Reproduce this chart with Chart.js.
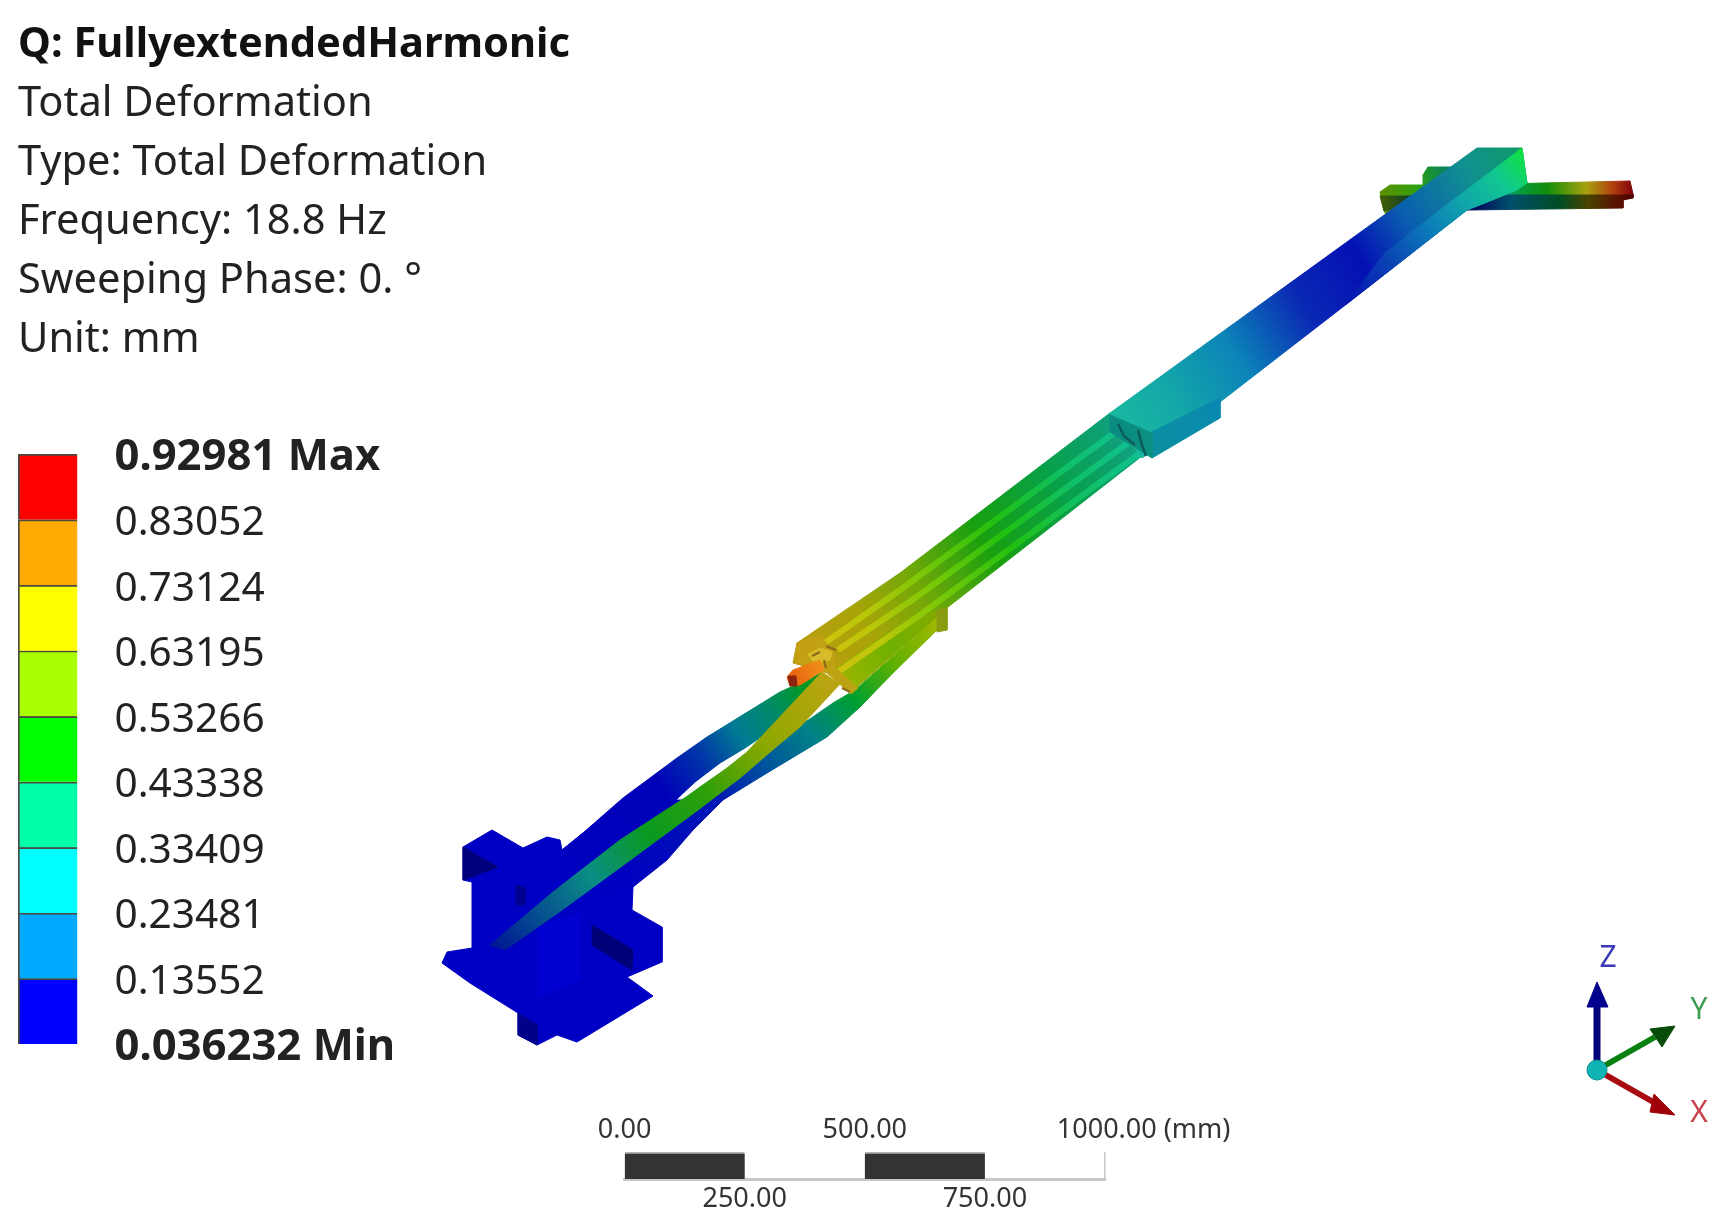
<!DOCTYPE html>
<html>
<head>
<meta charset="utf-8">
<title>Total Deformation</title>
<script src="https://cdn.jsdelivr.net/npm/chart.js@4/dist/chart.umd.js"></script>
<style>
  html, body { margin: 0; padding: 0; background: #fff; }
  #page { position: relative; width: 1736px; height: 1229px; overflow: hidden; background: #fff; filter: blur(0.6px); }
  #page canvas { position: absolute; }
  #header { position: absolute; left: 18px; top: 12px; font: 41.6px/59px "Noto Sans", sans-serif; color: #222; white-space: nowrap; }
  #header b { color: #111; }
  .axis-name { position: absolute; font: 30px "Noto Sans", sans-serif; transform: translate(-50%, -50%); }
</style>
</head>
<body>
<div id="page">
  <canvas id="model" width="1736" height="1229" style="left:0;top:0"></canvas>
  <canvas id="legendbar" width="500" height="640" style="left:0;top:430px"></canvas>
  <canvas id="scalebar" width="760" height="119" style="left:560px;top:1110px"></canvas>
  <div id="header"></div>
  <span class="axis-name" style="left:1608px;top:955px;color:#3a3ab8">Z</span>
  <span class="axis-name" style="left:1699px;top:1007px;color:#3c9c50">Y</span>
  <span class="axis-name" style="left:1699px;top:1110px;color:#c8404a">X</span>
</div>
<script>
// header text
var headerTitle = 'Q: FullyextendedHarmonic';
var headerLines = ['Total Deformation', 'Type: Total Deformation', 'Frequency: 18.8 Hz', 'Sweeping Phase: 0. °', 'Unit: mm'];

// legend
var legendTicks = [0.92981, 0.83052, 0.73124, 0.63195, 0.53266, 0.43338, 0.33409, 0.23481, 0.13552, 0.036232];
var legendLabels = ['0.92981 Max', '0.83052', '0.73124', '0.63195', '0.53266', '0.43338', '0.33409', '0.23481', '0.13552', '0.036232 Min'];
var legendColors = ['#ff0000', '#ffaa00', '#ffff00', '#aaff00', '#00ff00', '#00ffaa', '#00ffff', '#00aaff', '#0000ff'];

// scale bar
var scaleSolid = [[0, 250], [500, 750]];
var scaleTop = [0, 500, 1000];
var scaleTopLabels = ['0.00', '500.00', '           1000.00 (mm)'];
var scaleBottom = [250, 750];
var scaleBottomLabels = ['250.00', '750.00'];

// model outlines
var baseBlock = [[463,847],[492,830],[523,848],[547,837],[560,840],[562,850],[583,833],[640,800],[700,800],[640,880],[633,887],[632,910],[662,927],[662,962],[627,977],[653,996],[577,1042],[557,1035],[537,1045],[518,1035],[518,1013],[470,983],[442,963],[447,952],[472,948],[472,882],[463,880]];
var baseShadeA = [[463,847],[498,867],[463,880]];
var baseShadeB = [[592,925],[633,950],[632,970],[592,945]];
var baseShadeC = [[518,1013],[537,1025],[537,1045],[518,1035]];
var baseShadeD = [[516,885],[526,888],[525,905],[516,905]];
var baseLight = [[538,927],[580,913],[580,980],[538,997]];
var upperStrut = [[562,850],[583,833],[623,798],[677,758],[707,737],[780,692],[800,683],[822,672],[800,703],[770,731],[745,748],[720,763],[695,782],[660,815],[620,850],[600,870],[560,880]];
var lowerStrut = [[600,860],[633,855],[695,800],[737,768],[773,738],[797,720],[807,721],[833,703],[855,690],[945,610],[937,630],[893,673],[860,707],[827,737],[767,773],[723,800],[693,830],[667,860],[633,887],[600,890]];
var centerRod = [[490,945],[553,892],[620,840],[686,797],[700,787],[727,768],[747,752],[822,672],[840,684],[800,727],[776,747],[740,778],[698,810],[633,858],[562,910],[505,950]];
var ribbedBeam = [[797,643],[900,573],[1110,413],[1117,430],[1142,456],[948,607],[850,693],[830,673],[793,663]];
var beamSide = [[830,673],[852,690],[948,607],[905,622]];
var bracket = [[937,610],[947,608],[947,630],[937,632]];
var ribOne = [[812,652],[900,590],[1118,430]];
var ribTwo = [[838,650],[915,598],[1128,443]];
var ribThree = [[838,672],[920,615],[1140,453]];
var upperBeam = [[1110,413],[1340,247],[1477,148],[1522,148],[1527,183],[1517,190],[1467,210],[1357,296],[1220,402],[1142,458]];
var upperRidge = [[1345,305],[1385,253],[1440,210],[1522,148],[1527,183],[1517,190],[1467,210]];
var blockSide = [[1152,432],[1220,398],[1220,418],[1152,458]];
var blockEnd = [[1110,415],[1152,433],[1152,458],[1110,432]];
var barLeft = [[1380,192],[1390,185],[1423,185],[1423,175],[1428,167],[1460,167],[1403,240],[1384,211]];
var barLeftLow = [[1380,196],[1412,196],[1390,210],[1384,211]];
var barRightTop = [[1500,184],[1630,181],[1633,194],[1500,194]];
var barRightLow = [[1467,210],[1500,194],[1633,194],[1633,198],[1623,200],[1623,208]];
var beamEnd = [[797,643],[797,663],[827,673],[851,694],[858,688],[836,668],[832,650],[820,636]];
var endPatch = [[808,654],[820,648],[832,652],[830,660],[815,664]];
var pin = [[787,677],[793,670],[820,660],[824,670],[800,685],[790,686]];
var pinTip = [[788,676],[796,676],[797,686],[790,686]];
var endMarksA = [[812,656],[820,652]];
var endMarksB = [[826,646],[836,650]];
var endMarksC = [[826,668],[824,660]];
var endMarksD = [[842,688],[850,692]];
var holeMarksA = [[1118,424],[1124,436],[1135,445]];
var holeMarksB = [[1138,430],[1142,445],[1146,456]];
var triadZShaft = [[1597,1070],[1597,1005]];
var triadZHead = [[1597,982],[1608,1007],[1587,1007]];
var triadYShaft = [[1597,1070],[1655,1037]];
var triadYHead = [[1675,1026],[1662,1047],[1650,1029]];
var triadXShaft = [[1597,1070],[1655,1103]];
var triadXHead = [[1675,1115],[1650,1112],[1654,1094]];
var triadOrigin = [[1597,1070]];

// colour runs along each part: [offset, colour]
var baseColors = [[0,'#0000c4'],[1,'#0000c4']];
var upperColors = [[0,'#0000c0'],[0.4,'#0000b8'],[0.58,'#0038a8'],[0.72,'#007a94'],[0.86,'#008a68'],[1,'#009a20']];
var lowerColors = [[0,'#0000c0'],[0.3,'#0018b4'],[0.45,'#00559c'],[0.58,'#008088'],[0.72,'#00a030'],[0.85,'#60b000'],[1,'#a0b800']];
var rodColors = [[0,'#001a96'],[0.12,'#064e90'],[0.28,'#0a8e84'],[0.45,'#0a9a20'],[0.62,'#2f9f08'],[0.8,'#8da800'],[1,'#b8a410']];
var beamColors = [[0,'#bc9c10'],[0.18,'#a8a408'],[0.35,'#70a808'],[0.55,'#18a010'],[0.78,'#08a048'],[1,'#10a080']];
var ribColors = [[0,'#d8c010'],[0.2,'#b8c808'],[0.4,'#70c808'],[0.6,'#20c010'],[0.8,'#10c060'],[1,'#10c090']];
var upperBeamColors = [[0,'#18b8a0'],[0.12,'#14a8a8'],[0.28,'#0b84b8'],[0.45,'#0a28b4'],[0.6,'#0410b4'],[0.72,'#0a5cb0'],[0.88,'#109090'],[1,'#109a68']];
var ridgeColors = [[0,'#0410b4'],[0.25,'#0a40b4'],[0.5,'#0b80b8'],[0.68,'#10a8a8'],[0.85,'#10c890'],[1,'#10e040']];
var blockSideColors = [[0,'#0a90a0'],[1,'#0a88b0']];
var blockEndColors = [[0,'#0a8c80'],[1,'#0a9080']];
var barLeftColors = [[0,'#5a9000'],[0.5,'#30a010'],[1,'#008060']];
var barLeftLowColors = [[0,'#406000'],[1,'#103c30']];
var barTopColors = [[0,'#00a868'],[0.35,'#108c08'],[0.65,'#a8a010'],[0.85,'#b04010'],[1,'#800008']];
var barLowColors = [[0,'#000058'],[0.25,'#00506c'],[0.55,'#004c24'],[0.72,'#484400'],[0.9,'#5c1200'],[1,'#4c0000']];
var endColors = [[0,'#c4a012'],[1,'#b8a412']];
var pinColors = [[0,'#e86010'],[1,'#f09018']];

function xy(pts, close) {
  var out = pts.map(function (p) { return { x: p[0], y: p[1] }; });
  if (close) out.push({ x: pts[0][0], y: pts[0][1] });
  return out;
}

// gradient along the data space direction from -> to
function along(from, to, stops) {
  return function (ctx) {
    var sx = ctx.chart.scales.x, sy = ctx.chart.scales.y;
    if (!ctx.chart.chartArea) return stops[0][1]; // options also get resolved before layout
    var g = ctx.chart.ctx.createLinearGradient(sx.getPixelForValue(from[0]), sy.getPixelForValue(from[1]), sx.getPixelForValue(to[0]), sy.getPixelForValue(to[1]));
    stops.forEach(function (s) { g.addColorStop(s[0], s[1]); });
    return g;
  };
}

function part(pts, paint) {
  return { data: xy(pts, true), showLine: true, fill: 'shape', backgroundColor: paint, borderColor: paint, borderWidth: 1, pointRadius: 0, tension: 0 };
}
function stroke(pts, paint, w) {
  return { data: xy(pts, false), showLine: true, fill: false, borderColor: paint, borderWidth: w, pointRadius: 0, tension: 0 };
}

var beamFrom = [797, 650], beamTo = [1120, 425];
var layers = [
  part(barLeft, along([1380,190],[1450,170], barLeftColors)),
  part(barLeftLow, along([1380,200],[1412,200], barLeftLowColors)),
  part(barRightLow, along([1470,200],[1633,200], barLowColors)),
  part(barRightTop, along([1500,190],[1633,190], barTopColors)),
  part(baseBlock, along([460,900],[660,900], baseColors)),
  part(baseLight, '#0000d0'),
  part(baseShadeA, '#00007c'),
  part(baseShadeB, '#000078'),
  part(baseShadeC, '#000088'),
  part(baseShadeD, '#000090'),
  part(upperStrut, along([560,850],[805,685], upperColors)),
  part(lowerStrut, along([633,887],[940,625], lowerColors)),
  part(centerRod, along([497,945],[825,685], rodColors)),
  part(ribbedBeam, along(beamFrom, beamTo, beamColors)),
  part(beamSide, along([830,680],[948,607], [[0,'#a0b800'],[0.5,'#70b000'],[1,'#88a800']])),
  part(bracket, '#8a9c10'),
  stroke(ribOne, along(beamFrom, beamTo, ribColors), 6),
  stroke(ribTwo, along(beamFrom, beamTo, ribColors), 6),
  stroke(ribThree, along(beamFrom, beamTo, ribColors), 6),
  part(upperBeam, along([1110,413],[1522,148], upperBeamColors)),
  part(upperRidge, along([1345,305],[1522,150], ridgeColors)),
  part(blockSide, along([1152,450],[1220,410], blockSideColors)),
  part(blockEnd, along([1110,420],[1152,450], blockEndColors)),
  stroke(holeMarksA, '#0c5c58', 2.5),
  stroke(holeMarksB, '#0c5c58', 2.5),
  part(beamEnd, along([797,650],[860,690], endColors)),
  part(endPatch, '#d8bc2c'),
  stroke(endMarksA, '#8c6a18', 2),
  stroke(endMarksB, '#8c6a18', 2),
  stroke(endMarksC, '#8c6a18', 2),
  stroke(endMarksD, '#8c6a18', 2),
  part(pin, along([790,680],[822,665], pinColors)),
  part(pinTip, '#8c2410'),
  stroke(triadZShaft, '#00007c', 7),
  part(triadZHead, '#00008c'),
  stroke(triadYShaft, '#0a8010', 6),
  part(triadYHead, '#064c08'),
  stroke(triadXShaft, '#a80c10', 6),
  part(triadXHead, '#a00008'),
  { data: xy(triadOrigin, false), showLine: false, pointRadius: 10, backgroundColor: '#10b4b4', borderColor: '#0c8c8c', borderWidth: 1 }
];

new Chart(document.getElementById('model'), {
  type: 'scatter',
  data: { datasets: layers.reverse() }, // first dataset is painted last
  options: {
    responsive: false, animation: false, devicePixelRatio: 1,
    layout: { padding: 0, autoPadding: false },
    plugins: { legend: { display: false }, tooltip: { enabled: false } },
    scales: {
      x: { type: 'linear', min: 0, max: 1736, display: false },
      y: { type: 'linear', min: 0, max: 1229, reverse: true, display: false }
    }
  }
});

// colour key, one floating bar per band
var bandSets = legendColors.map(function (c, i) {
  return { data: [[legendTicks[i + 1], legendTicks[i]]], backgroundColor: c, borderColor: '#4a4a40', borderWidth: { top: 2, left: 2, right: 0, bottom: 0 }, borderSkipped: false, barPercentage: 1, categoryPercentage: 1, grouped: false };
});
new Chart(document.getElementById('legendbar'), {
  type: 'bar',
  data: { labels: ['band'], datasets: bandSets },
  options: {
    responsive: false, animation: false, devicePixelRatio: 1,
    layout: { padding: { left: 18, top: 24, bottom: 26, right: 0 }, autoPadding: false },
    plugins: { legend: { display: false }, tooltip: { enabled: false } },
    scales: {
      x: { display: false, grid: { display: false } },
      y: {
        position: 'right', min: 0.036232, max: 0.92981,
        border: { display: false }, grid: { display: false, drawTicks: false },
        afterBuildTicks: function (s) { s.ticks = legendTicks.map(function (v) { return { value: v }; }); },
        afterFit: function (s) { s.width = 422.5; s.paddingTop = 0; s.paddingBottom = 0; },
        ticks: {
          padding: 37, labelOffset: 4, crossAlign: 'near', autoSkip: false, color: '#222',
          font: function (c) {
            var edge = c.index === 0 || c.index === legendTicks.length - 1;
            return { family: '"Noto Sans", sans-serif', size: edge ? 43.6 : 40.6, weight: edge ? 'bold' : 'normal' };
          },
          callback: function (v, i) { return legendLabels[i]; }
        }
      }
    }
  }
});

// scale bar
var scaleFont = { family: '"Noto Sans", sans-serif', size: 27 };
new Chart(document.getElementById('scalebar'), {
  type: 'bar',
  data: {
    labels: ['length'],
    datasets: scaleSolid.map(function (s) {
      return { data: [s], backgroundColor: '#333333', borderColor: '#b4b4b4', borderWidth: { top: 2, left: 0, right: 0, bottom: 0 }, borderSkipped: false, barPercentage: 1, categoryPercentage: 1, grouped: false };
    })
  },
  options: {
    indexAxis: 'y', responsive: false, animation: false, devicePixelRatio: 1,
    layout: { padding: { left: 64.6, right: 215, top: 0, bottom: 0 }, autoPadding: false },
    plugins: { legend: { display: false }, tooltip: { enabled: false } },
    scales: {
      y: { display: false, grid: { display: false } },
      x: {
        type: 'linear', position: 'bottom', min: 0, max: 1000,
        border: { color: '#c8c8c8', width: 3 }, grid: { display: false, drawTicks: false },
        afterBuildTicks: function (s) { s.ticks = scaleBottom.map(function (v) { return { value: v }; }); },
        afterFit: function (s) { s.height = 50; },
        ticks: { padding: 4, maxRotation: 0, autoSkip: false, color: '#333', font: scaleFont, callback: function (v, i) { return scaleBottomLabels[i]; } }
      },
      xTop: {
        type: 'linear', axis: 'x', position: 'top', min: 0, max: 1000,
        border: { display: false },
        grid: { drawTicks: false, lineWidth: 1.5, color: function (c) { return c.tick && c.tick.value === 1000 ? '#c8c8c8' : 'rgba(0,0,0,0)'; } },
        afterBuildTicks: function (s) { s.ticks = scaleTop.map(function (v) { return { value: v }; }); },
        afterFit: function (s) { s.height = 42; },
        ticks: { padding: 5, maxRotation: 0, autoSkip: false, color: '#333', font: scaleFont, callback: function (v, i) { return scaleTopLabels[i]; } }
      }
    }
  }
});

var head = document.getElementById('header');
head.innerHTML = '<b>' + headerTitle + '</b><br>' + headerLines.join('<br>');
</script>
</body>
</html>
